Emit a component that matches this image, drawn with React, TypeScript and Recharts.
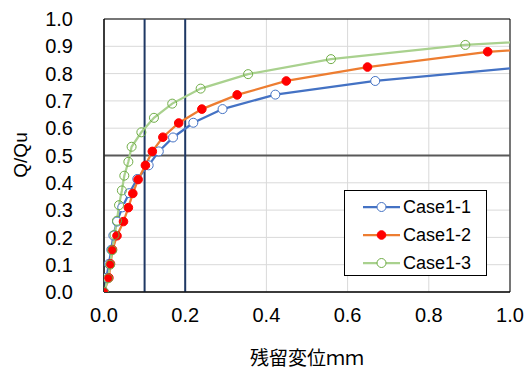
import React from "react";
import {
  CartesianGrid,
  Label,
  Line,
  LineChart,
  ReferenceArea,
  ReferenceLine,
  XAxis,
  YAxis,
} from "recharts";

// residual displacement (mm) and Q/Qu
const case11X = [0, 0.006, 0.012, 0.018, 0.023, 0.032, 0.045, 0.062, 0.082, 0.11, 0.135, 0.17, 0.22, 0.292, 0.422, 0.668, 1.04];
const case11Y = [0, 0.052, 0.103, 0.155, 0.207, 0.258, 0.31, 0.362, 0.414, 0.464, 0.515, 0.566, 0.62, 0.67, 0.723, 0.773, 0.825];

const case12X = [0, 0.012, 0.016, 0.021, 0.032, 0.048, 0.06, 0.071, 0.084, 0.102, 0.119, 0.145, 0.184, 0.241, 0.328, 0.449, 0.649, 0.945, 1.5];
const case12Y = [0, 0.052, 0.103, 0.155, 0.206, 0.258, 0.309, 0.361, 0.412, 0.464, 0.515, 0.567, 0.619, 0.67, 0.722, 0.773, 0.824, 0.88, 0.93];

const case13X = [0, 0.01, 0.015, 0.02, 0.026, 0.032, 0.037, 0.044, 0.05, 0.06, 0.068, 0.092, 0.123, 0.168, 0.238, 0.355, 0.559, 0.89, 1.45];
const case13Y = [0, 0.05, 0.1, 0.153, 0.209, 0.261, 0.318, 0.372, 0.426, 0.477, 0.532, 0.585, 0.638, 0.69, 0.745, 0.798, 0.853, 0.905, 0.955];

const xTicks = [0, 0.2, 0.4, 0.6, 0.8, 1.0];
const yTicks = [0, 0.1, 0.2, 0.3, 0.4, 0.5, 0.6, 0.7, 0.8, 0.9, 1.0];
const markLinesX = [0.1, 0.2];
const halfLineY = 0.5;

const toPoints = (xs: number[], ys: number[]) => xs.map((x, i) => ({ x, y: ys[i] }));

const SERIES = [
  { name: "Case1-1", data: toPoints(case11X, case11Y), line: "#4472C4", dotStroke: "#4472C4", dotFill: "#fff", r: 4.5 },
  { name: "Case1-2", data: toPoints(case12X, case12Y), line: "#ED7D31", dotStroke: "#FF0000", dotFill: "#FF0000", r: 4.3 },
  { name: "Case1-3", data: toPoints(case13X, case13Y), line: "#A9D18E", dotStroke: "#70AD47", dotFill: "none", r: 4.5 },
];

const TICK_FONT = "'Liberation Sans', Arial, sans-serif";
const CJK_FONT = "'Noto Sans CJK JP', sans-serif";

function LegendBox() {
  return (
    <div
      style={{
        position: "absolute",
        left: 344,
        top: 190,
        width: 141,
        height: 84,
        background: "#fff",
        border: "1px solid #000",
        fontFamily: TICK_FONT,
        fontSize: 18,
        color: "#000",
      }}
    >
      {SERIES.map((s, i) => (
        <div key={s.name} style={{ position: "absolute", left: 18, top: 3 + i * 28, height: 26, display: "flex", alignItems: "center" }}>
          <svg width={37} height={12} style={{ marginRight: 3 }}>
            <line x1={0} y1={6} x2={37} y2={6} stroke={s.line} strokeWidth={2.25} />
            <circle cx={18.5} cy={6} r={s.r} stroke={s.dotStroke} strokeWidth={1} fill={s.dotFill === "none" ? "#fff" : s.dotFill} />
          </svg>
          <span>{s.name}</span>
        </div>
      ))}
    </div>
  );
}

export default function App() {
  return (
    <div style={{ position: "absolute", left: 0, top: 0, width: 525, height: 374, background: "#fff" }}>
      <LineChart width={525} height={374} margin={{ top: 19, right: 15, bottom: 0, left: 0 }}>
        <CartesianGrid stroke="#D9D9D9" strokeWidth={1} />
        <XAxis
          type="number"
          dataKey="x"
          domain={[0, 1]}
          ticks={xTicks}
          interval={0}
          allowDataOverflow
          tickFormatter={(v) => Number(v).toFixed(1)}
          tick={{ fill: "#000", fontSize: 20, fontFamily: TICK_FONT }}
          tickLine={false}
          tickSize={0}
          tickMargin={16}
          axisLine={{ stroke: "#000" }}
          height={82}
        >
          <Label value="残留変位ｍｍ" position="insideBottom" offset={9} style={{ fill: "#000", fontSize: 19, fontFamily: CJK_FONT }} />
        </XAxis>
        <YAxis
          type="number"
          dataKey="y"
          domain={[0, 1]}
          ticks={yTicks}
          interval={0}
          allowDataOverflow
          tickFormatter={(v) => Number(v).toFixed(1)}
          tick={{ fill: "#000", fontSize: 20, fontFamily: TICK_FONT }}
          tickLine={false}
          tickSize={0}
          tickMargin={31}
          axisLine={{ stroke: "#000" }}
          width={104}
        >
          <Label
            content={() => (
              <text
                x={20}
                y={155}
                transform="rotate(-90, 20, 155)"
                textAnchor="middle"
                dominantBaseline="central"
                fill="#000"
                fontSize={19}
                fontFamily={TICK_FONT}
              >
                Q/Qu
              </text>
            )}
          />
        </YAxis>
        <ReferenceLine y={halfLineY} stroke="#595959" strokeWidth={2} />
        {markLinesX.map((x) => (
          <ReferenceLine key={x} x={x} stroke="#1F3864" strokeWidth={2} />
        ))}
        <ReferenceArea x1={0} x2={1} y1={0} y2={1} fill="none" stroke="#000" strokeWidth={1} />
        {SERIES.map((s) => (
          <Line
            key={s.name}
            data={s.data}
            dataKey="y"
            name={s.name}
            type="linear"
            stroke={s.line}
            strokeWidth={2.25}
            dot={{ r: s.r, stroke: s.dotStroke, strokeWidth: 1, fill: s.dotFill, fillOpacity: 1 }}
            activeDot={false}
            isAnimationActive={false}
          />
        ))}
      </LineChart>
      <LegendBox />
    </div>
  );
}
